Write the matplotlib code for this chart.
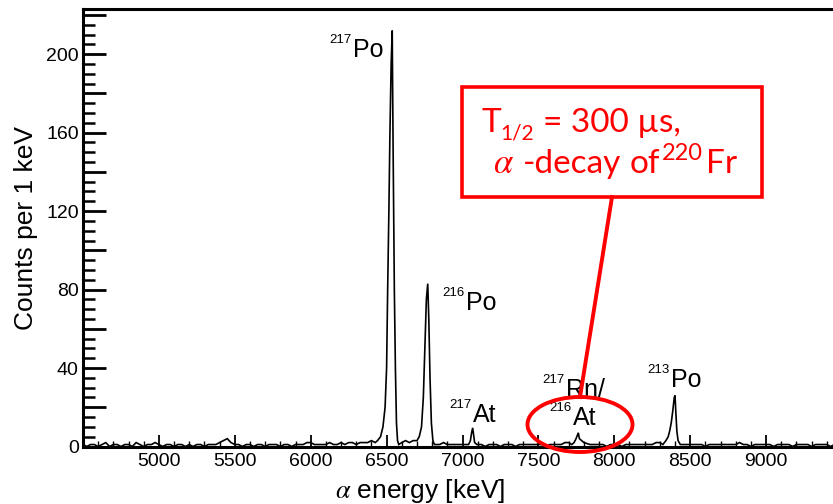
import numpy as np
import matplotlib
matplotlib.use("Agg")
import matplotlib.pyplot as plt
from matplotlib.patches import Rectangle, Ellipse
from matplotlib.lines import Line2D
from matplotlib.ticker import MultipleLocator

plt.rcParams['font.family'] = ['Liberation Sans', 'DejaVu Sans']
plt.rcParams['mathtext.fontset'] = 'stix'

# ---------------- data ----------------
# background counts, read every 25 keV starting at 4500 keV
bg_start_keV = 4500
bg_step_keV = 25
bg_counts = [
    1, 0, 1, 1, 0, 1, 2, 0, 1, 1, 0, 1, 1, 0, 2, 1, 0, 1, 1, 2,   # 4500-4975
    1, 0, 1, 1, 0, 1, 1, 0, 1, 0, 1, 1, 0, 1, 1, 1, 2, 3, 4, 2,   # 5000-5475
    1, 1, 0, 1, 1, 0, 1, 1, 0, 1, 1, 1, 0, 1, 1, 0, 1, 1, 1, 2,   # 5500-5975
    2, 1, 1, 1, 1, 2, 1, 1, 2, 1, 2, 2, 1, 2, 2, 2, 3, 2, 3, 5,   # 6000-6475
    5, 3, 2, 2, 2, 3, 2, 3, 4, 3, 2, 2, 2, 1, 1, 2, 1, 1, 1, 1,   # 6500-6975
    1, 1, 1, 1, 1, 1, 0, 1, 1, 1, 0, 1, 1, 1, 0, 1, 1, 1, 1, 1,   # 7000-7475
    1, 1, 0, 1, 1, 1, 1, 2, 2, 2, 3, 2, 2, 2, 1, 1, 1, 1, 0, 1,   # 7500-7975
    1, 1, 0, 1, 1, 1, 1, 1, 1, 1, 1, 2, 2, 3, 4, 3, 2, 2, 1, 1,   # 8000-8475
    1, 1, 1, 1, 0, 1, 1, 1, 1, 1, 1, 1, 1, 2, 1, 1, 0, 1, 1, 1,   # 8500-8975
    1, 1, 0, 1, 1, 1, 1, 0, 1, 1, 1, 1, 0, 1, 1, 1, 1, 0, 1, 1, 1 # 9000-9500
]

po217_energy = [6440, 6460, 6476, 6490, 6500, 6507, 6515, 6522, 6530, 6537, 6542, 6551, 6558, 6565, 6572, 6580]
po217_counts = [3, 5, 10, 20, 40, 80, 120, 160, 195, 212, 160, 80, 40, 12, 3, 1]

po216_energy = [6700, 6715, 6730, 6742, 6752, 6762, 6771, 6778, 6786, 6795, 6805, 6815]
po216_counts = [3, 5, 10, 25, 50, 75, 83, 65, 35, 12, 3, 1]

at217_energy = [7040, 7052, 7060, 7067, 7073, 7080, 7095]
at217_counts = [1, 3, 7, 9.5, 6, 2, 1]

at216_energy = [7720, 7735, 7748, 7758, 7763, 7770, 7785, 7800, 7820, 7840]
at216_counts = [1, 2, 4, 6, 7, 4, 3, 2, 1.5, 1]

po213_energy = [8320, 8340, 8355, 8365, 8375, 8385, 8395, 8400, 8405, 8412, 8420, 8435]
po213_counts = [1, 3, 5, 8, 12, 18, 25, 26, 18, 8, 3, 1]

x_tick_values = [5000, 5500, 6000, 6500, 7000, 7500, 8000, 8500, 9000]
x_tick_labels = ['5000', '5500', '6000', '6500', '7000', '7500', '8000', '8500', '9000']
y_label_values = [0, 40, 80, 120, 160, 200]

peak_labels = [  # (mass number, element, label anchor energy, label baseline counts)
    ('217', 'Po', 6279, 198.5),
    ('216', 'Po', 7023, 69.6),
    ('217', 'At', 7069, 12.5),
    ('217', 'Rn/', 7682, 25.2),
    ('216', 'At', 7728, 11.0),
    ('213', 'Po', 8374, 30.3),
]

# ---------------- figure ----------------
W, H = 833, 504
fig = plt.figure(figsize=(W / 100, H / 100), dpi=100)
fig.patch.set_facecolor('white')

def px(x, y):
    return (x / W, 1 - y / H)

ax = fig.add_axes([83 / W, (H - 446.5) / H, 759 / W, (446.5 - 9) / H])

bg_energy = bg_start_keV + bg_step_keV * np.arange(len(bg_counts))
bg_c = np.array(bg_counts, dtype=float)
peaks = [(po217_energy, po217_counts), (po216_energy, po216_counts),
         (at217_energy, at217_counts), (at216_energy, at216_counts),
         (po213_energy, po213_counts)]
mask = np.ones(len(bg_energy), dtype=bool)
for e, c in peaks:
    mask &= ~((bg_energy >= e[0]) & (bg_energy <= e[-1]))
E = np.concatenate([bg_energy[mask]] + [np.asarray(e, float) for e, c in peaks])
C = np.concatenate([bg_c[mask]] + [np.asarray(c, float) for e, c in peaks])
order = np.argsort(E)
ax.plot(E[order], C[order], color='black', lw=1.2, solid_joinstyle='miter')

ax.set_xlim(4500, 9500)
ax.set_ylim(0, 223)

for side in ['left', 'top', 'bottom', 'right']:
    ax.spines[side].set_linewidth(2.2)

ax.set_xticks(x_tick_values)
ax.set_xticklabels(x_tick_labels)
ax.xaxis.set_minor_locator(MultipleLocator(100))
y_major = list(range(0, 221, 20))
ax.set_yticks(y_major)
ax.set_yticklabels([str(v) if v in y_label_values else '' for v in y_major])
ax.yaxis.set_minor_locator(MultipleLocator(5))

ax.tick_params(axis='x', which='major', direction='in', length=8.6, width=1.3,
               labelsize=14, pad=5, top=False)
ax.tick_params(axis='x', which='minor', direction='in', length=4.0, width=1.0, top=False)
ax.tick_params(axis='y', which='major', direction='in', length=16.5, width=2.0,
               labelsize=14, pad=3, right=False)
ax.tick_params(axis='y', which='minor', direction='in', length=8.5, width=1.8, right=False)

fig.text(*px(26, 228), 'Counts per 1 keV', rotation=90, ha='center', va='center', fontsize=19)
fig.text(*px(420, 498), r'$\alpha$ energy [keV]', ha='center', va='baseline', fontsize=19)

for mass, el, xe, yc in peak_labels:
    ax.text(xe, yc, el, fontsize=18, ha='left', va='baseline')
    ax.annotate(mass, xy=(xe, yc), xytext=(-1, 10), textcoords='offset points',
                fontsize=9.5, ha='right', va='baseline')

# ---------------- red annotation ----------------
red = '#ff0000'
fig.add_artist(Rectangle(px(462, 197), 300 / W, 110 / H, transform=fig.transFigure,
                         fill=True, facecolor='white', edgecolor=red, lw=2.6, zorder=10))
fig.add_artist(Line2D([612 / W, 580 / W], [1 - 197 / H, 1 - 397 / H],
                      transform=fig.transFigure, color=red, lw=2.8, zorder=10))
fig.add_artist(Ellipse(px(580, 424.5), 105 / W, 55 / H, transform=fig.transFigure,
                       fill=False, edgecolor=red, lw=2.8, zorder=10))

box_font = ['Lato', 'DejaVu Sans']
fig.text(*px(482, 131.7), 'T', color=red, fontsize=24, family=box_font, va='baseline', zorder=11)
fig.text(*px(500, 140), '1/2', color=red, fontsize=15, family=box_font, va='baseline', zorder=11)
fig.text(*px(543, 131.7), '= 300 µs,', color=red, fontsize=24, family=box_font, va='baseline', zorder=11)
fig.text(*px(493, 173), r'$\alpha$', color=red, fontsize=25, va='baseline', zorder=11)
fig.text(*px(523, 173), '-decay', color=red, fontsize=24, family=box_font, va='baseline', zorder=11)
fig.text(*px(630, 173), 'of', color=red, fontsize=24, family=box_font, va='baseline', zorder=11)
fig.text(*px(662, 160), '220', color=red, fontsize=17, family=box_font, va='baseline', zorder=11)
fig.text(*px(706, 173), 'Fr', color=red, fontsize=24, family=box_font, va='baseline', zorder=11)

fig.savefig('out.png', dpi=100)
